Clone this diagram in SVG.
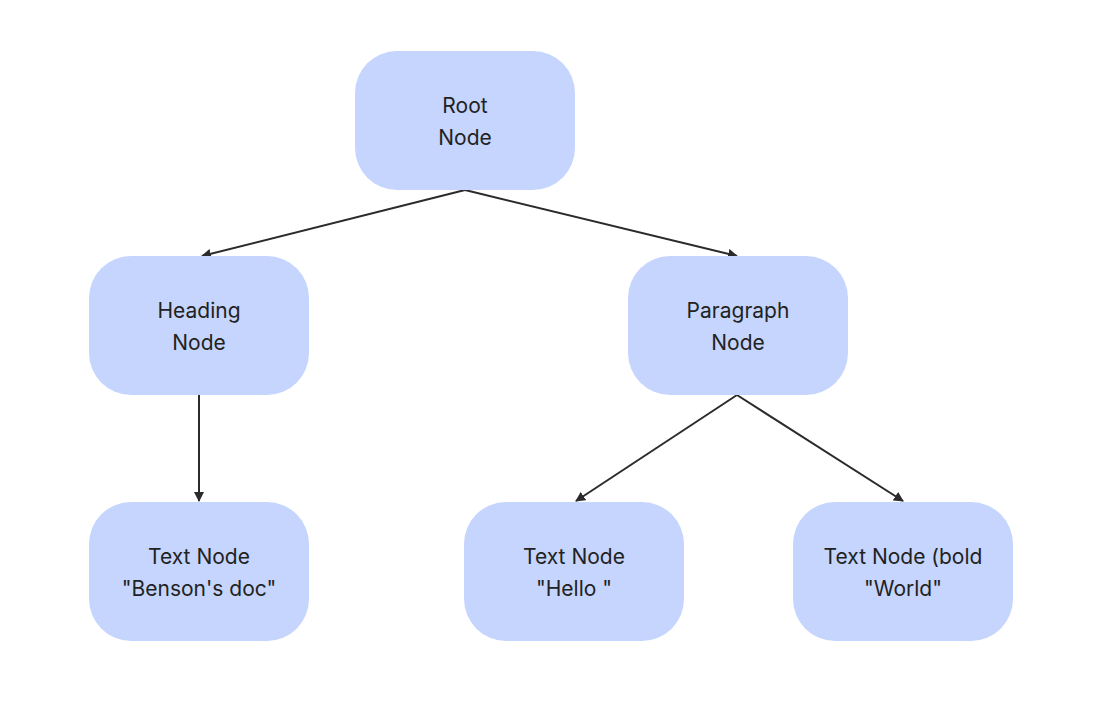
<svg xmlns="http://www.w3.org/2000/svg" width="1099" height="705" viewBox="0 0 1099 705">
<style>
.n{fill:#c5d5fd}
.t{font-family:Inter,"Noto Sans",sans-serif;font-size:21px;fill:#222;text-anchor:middle}
.c{stroke:#2b2b2b;stroke-width:2;fill:none;marker-end:url(#a)}
</style>
<defs><marker id="a" markerWidth="10" markerHeight="10" refX="9" refY="5" orient="auto" markerUnits="userSpaceOnUse" viewBox="0 0 10 10"><path d="M0,0L10,5L0,10z" fill="#2b2b2b"/></marker></defs>
<rect width="1099" height="705" fill="#fff"/>
<g id="connectors">
<line class="c" x1="465" y1="190" x2="202" y2="256"/>
<line class="c" x1="465" y1="190" x2="737" y2="256"/>
<line class="c" x1="199" y1="395" x2="199" y2="501"/>
<line class="c" x1="737" y1="395" x2="576" y2="501"/>
<line class="c" x1="737" y1="395" x2="903" y2="501"/>
</g>
<g id="root"><rect class="n" x="355" y="51" width="220" height="139" rx="42"/><text class="t" x="465" y="113">Root</text><text class="t" x="465" y="145">Node</text></g>
<g id="heading"><rect class="n" x="89" y="256" width="220" height="139" rx="42"/><text class="t" x="199" y="318">Heading</text><text class="t" x="199" y="350">Node</text></g>
<g id="paragraph"><rect class="n" x="628" y="256" width="220" height="139" rx="42"/><text class="t" x="738" y="318">Paragraph</text><text class="t" x="738" y="350">Node</text></g>
<g id="text1"><rect class="n" x="89" y="502" width="220" height="139" rx="42"/><text class="t" x="199" y="564">Text Node</text><text class="t" x="199" y="596">"Benson's doc"</text></g>
<g id="text2"><rect class="n" x="464" y="502" width="220" height="139" rx="42"/><text class="t" x="574" y="564">Text Node</text><text class="t" x="574" y="596" xml:space="preserve">"Hello "</text></g>
<g id="text3"><rect class="n" x="793" y="502" width="220" height="139" rx="42"/><text class="t" x="903" y="564">Text Node (bold</text><text class="t" x="903" y="596">"World"</text></g>
</svg>
